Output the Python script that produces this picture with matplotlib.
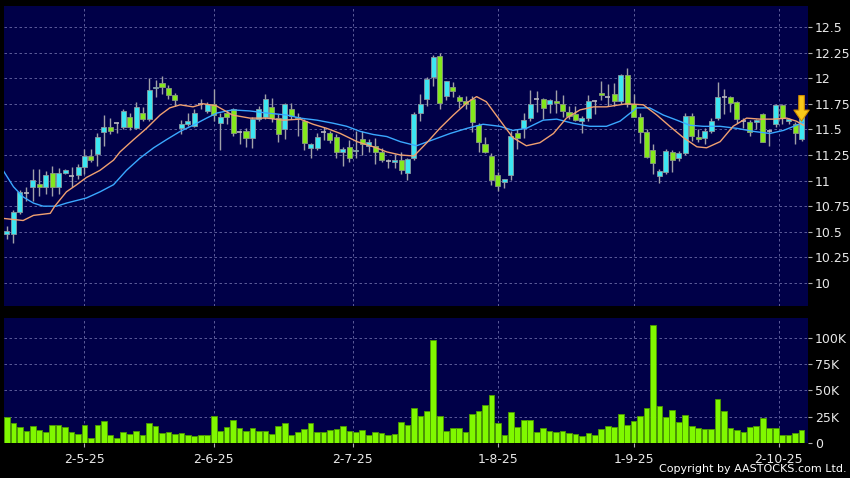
import numpy as np
import matplotlib.pyplot as plt

# OHLC per trading day
opens = [10.48, 10.48, 10.69, 10.88, 10.94, 10.97, 10.94, 11.07, 10.94, 11.07,
         11.04, 11.05, 11.13, 11.24, 11.26, 11.47, 11.52, 11.56, 11.52, 11.62,
         11.51, 11.66, 11.60, 11.90, 11.95, 11.90, 11.84, 11.51, 11.55, 11.53,
         11.75, 11.68, 11.75, 11.56, 11.66, 11.70, 11.47, 11.48, 11.42, 11.60,
         11.62, 11.72, 11.61, 11.50, 11.70, 11.62, 11.58, 11.32, 11.32, 11.47,
         11.46, 11.43, 11.28, 11.33, 11.29, 11.41, 11.34, 11.34, 11.28, 11.19,
         11.18, 11.20, 11.07, 11.22, 11.66, 11.80, 12.01, 12.22, 11.83, 11.91,
         11.82, 11.78, 11.80, 11.54, 11.36, 11.24, 11.05, 10.99, 11.05, 11.46,
         11.51, 11.61, 11.80, 11.80, 11.75, 11.78, 11.75, 11.67, 11.65, 11.58,
         11.61, 11.78, 11.86, 11.82, 11.85, 11.78, 12.03, 11.75, 11.62, 11.47,
         11.30, 11.04, 11.08, 11.28, 11.22, 11.27, 11.63, 11.43, 11.42, 11.48,
         11.61, 11.82, 11.82, 11.77, 11.58, 11.57, 11.57, 11.65, 11.48, 11.55,
         11.74, 11.58, 11.55, 11.41]
highs = [10.56, 10.71, 10.91, 10.94, 11.11, 11.11, 11.09, 11.14, 11.12, 11.11,
         11.13, 11.16, 11.31, 11.31, 11.46, 11.64, 11.61, 11.57, 11.70, 11.66,
         11.77, 11.72, 12.00, 11.98, 12.02, 11.93, 11.86, 11.59, 11.66, 11.70,
         11.80, 11.77, 11.89, 11.66, 11.69, 11.71, 11.49, 11.51, 11.62, 11.73,
         11.85, 11.81, 11.65, 11.76, 11.76, 11.66, 11.60, 11.37, 11.46, 11.52,
         11.48, 11.45, 11.33, 11.40, 11.48, 11.48, 11.41, 11.42, 11.32, 11.21,
         11.26, 11.28, 11.22, 11.67, 11.85, 12.01, 12.23, 12.25, 11.97, 11.96,
         11.84, 11.83, 11.83, 11.56, 11.43, 11.27, 11.08, 11.02, 11.48, 11.50,
         11.66, 11.88, 11.87, 11.81, 11.80, 11.88, 11.84, 11.73, 11.73, 11.63,
         11.84, 11.79, 11.97, 11.94, 11.95, 12.04, 12.10, 11.85, 11.66, 11.50,
         11.36, 11.11, 11.31, 11.30, 11.29, 11.66, 11.66, 11.50, 11.51, 11.61,
         11.96, 11.89, 11.83, 11.78, 11.61, 11.59, 11.60, 11.66, 11.50, 11.75,
         11.75, 11.61, 11.57, 11.66]
lows = [10.43, 10.39, 10.67, 10.80, 10.80, 10.85, 10.87, 10.85, 10.87, 11.06,
        10.94, 11.02, 11.06, 11.18, 11.14, 11.34, 11.45, 11.46, 11.50, 11.49,
        11.50, 11.58, 11.58, 11.82, 11.85, 11.80, 11.73, 11.45, 11.53, 11.52,
        11.70, 11.66, 11.58, 11.30, 11.55, 11.44, 11.36, 11.33, 11.32, 11.58,
        11.60, 11.57, 11.38, 11.41, 11.60, 11.44, 11.30, 11.22, 11.30, 11.40,
        11.37, 11.22, 11.14, 11.18, 11.22, 11.25, 11.28, 11.16, 11.18, 11.12,
        11.12, 11.06, 11.01, 11.20, 11.58, 11.73, 11.92, 11.70, 11.79, 11.82,
        11.71, 11.70, 11.47, 11.28, 11.27, 10.96, 10.90, 10.93, 11.01, 11.31,
        11.42, 11.58, 11.67, 11.60, 11.66, 11.66, 11.62, 11.60, 11.58, 11.46,
        11.58, 11.65, 11.79, 11.73, 11.73, 11.75, 11.72, 11.70, 11.37, 11.22,
        11.06, 10.98, 11.06, 11.08, 11.19, 11.25, 11.39, 11.38, 11.36, 11.46,
        11.59, 11.65, 11.67, 11.56, 11.51, 11.44, 11.50, 11.38, 11.34, 11.52,
        11.55, 11.55, 11.36, 11.39]
closes = [10.51, 10.69, 10.89, 10.88, 11.01, 10.94, 11.05, 10.94, 11.07, 11.10,
          11.04, 11.13, 11.24, 11.20, 11.43, 11.52, 11.48, 11.56, 11.68, 11.52,
          11.72, 11.60, 11.88, 11.91, 11.91, 11.84, 11.79, 11.55, 11.58, 11.66,
          11.75, 11.75, 11.64, 11.62, 11.62, 11.46, 11.47, 11.42, 11.60, 11.70,
          11.80, 11.61, 11.45, 11.75, 11.63, 11.61, 11.37, 11.36, 11.43, 11.47,
          11.40, 11.28, 11.31, 11.22, 11.30, 11.36, 11.38, 11.28, 11.20, 11.19,
          11.20, 11.10, 11.21, 11.65, 11.75, 11.99, 12.21, 11.76, 11.97, 11.87,
          11.78, 11.75, 11.57, 11.38, 11.28, 11.01, 10.95, 11.02, 11.44, 11.42,
          11.59, 11.75, 11.80, 11.71, 11.79, 11.76, 11.68, 11.63, 11.59, 11.61,
          11.78, 11.78, 11.84, 11.82, 11.78, 12.03, 11.75, 11.62, 11.47, 11.23,
          11.17, 11.09, 11.29, 11.20, 11.27, 11.63, 11.44, 11.41, 11.48, 11.58,
          11.82, 11.82, 11.76, 11.60, 11.58, 11.47, 11.59, 11.38, 11.48, 11.74,
          11.61, 11.60, 11.46, 11.63]

# daily volume (K)
volume_k = [25, 19, 15, 11.5, 16, 12, 10.5, 17, 17, 15,
            10, 9, 17.6, 5, 17.6, 20.5, 7.4, 4.8, 10, 9,
            11, 8, 19.5, 16, 9.6, 10, 9, 9.6, 7.4, 6.7,
            7.7, 7.7, 25.3, 11.5, 15, 21.5, 14.4, 11.5, 14.4, 11,
            11, 9, 16, 19, 7.7, 10, 13.8, 19.5, 10.5, 10.5,
            12, 13.8, 16, 11, 10, 12.5, 8, 10.5, 9.3, 8,
            8.3, 20, 16.7, 33, 26, 30, 97.8, 25.4, 11.7, 14,
            14.6, 10.8, 27.6, 30, 36, 46, 19.4, 7.6, 29.5, 15,
            22, 22, 10.8, 14.6, 11.7, 10.8, 11.7, 9.8, 8.6, 7,
            9.8, 7.3, 13.3, 16.2, 15.6, 27.6, 17.5, 21, 26, 33.3,
            112.7, 35.5, 24.8, 31.7, 20, 26.3, 16.2, 14.3, 13, 13.7,
            42, 30, 14.6, 12, 10.2, 15.2, 16.5, 23.8, 14.6, 14.6,
            7.3, 7.3, 9.8, 12.4]

# moving averages read at sampled bar positions
ma_fast_x = [-0.5, 2.5, 4.1, 6.7, 7.4, 9.2, 10.8, 12.3, 14.4, 16.5, 17.5, 19.6,
             21.6, 23.7, 25.2, 26.8, 28.8, 30.4, 32.4, 34.9, 37.6, 40.2, 42.8,
             45.4, 47.4, 49.5, 51.6, 54.2, 56.7, 58.8, 60.9, 63.0, 65.0, 67.0,
             69.1, 71.2, 72.7, 74.2, 76.3, 78.3, 80.4, 82.5, 84.6, 86.6, 88.7,
             90.8, 92.8, 95.9, 98.5, 100.6, 102.6, 104.7, 106.8, 108.3, 110.4,
             112.4, 114.5, 116.6, 118.6, 120.7, 122.2, 123.3]
ma_fast_y = [10.63, 10.61, 10.66, 10.68, 10.75, 10.89, 10.96, 11.03, 11.10, 11.20,
             11.28, 11.40, 11.51, 11.64, 11.71, 11.74, 11.72, 11.75, 11.73, 11.64,
             11.61, 11.61, 11.59, 11.60, 11.55, 11.51, 11.46, 11.38, 11.33, 11.28,
             11.25, 11.24, 11.37, 11.51, 11.64, 11.76, 11.82, 11.77, 11.59, 11.42,
             11.34, 11.37, 11.46, 11.61, 11.69, 11.72, 11.72, 11.75, 11.74, 11.64,
             11.53, 11.42, 11.33, 11.32, 11.38, 11.53, 11.61, 11.60, 11.60, 11.61,
             11.58, 11.54]
ma_slow_x = [-0.5, 1.0, 2.5, 4.1, 5.6, 7.7, 9.2, 12.3, 14.4, 16.5, 18.5, 20.6,
             22.7, 24.7, 26.8, 28.8, 30.9, 32.5, 34.9, 37.6, 40.2, 43.3, 45.4,
             48.0, 50.5, 52.6, 54.7, 56.7, 58.8, 60.9, 63.4, 66.0, 68.6, 71.2,
             73.7, 76.3, 78.3, 80.4, 83.0, 85.1, 87.6, 90.2, 92.8, 94.9, 97.5,
             99.5, 101.6, 103.7, 105.7, 107.8, 110.4, 113.0, 115.6, 118.1, 120.2,
             122.2, 123.3]
ma_slow_y = [11.09, 10.94, 10.84, 10.78, 10.75, 10.75, 10.78, 10.83, 10.89, 10.96,
             11.10, 11.22, 11.32, 11.40, 11.48, 11.54, 11.61, 11.66, 11.69, 11.68,
             11.66, 11.64, 11.61, 11.59, 11.56, 11.53, 11.48, 11.45, 11.43, 11.38,
             11.34, 11.40, 11.46, 11.51, 11.55, 11.53, 11.49, 11.51, 11.59, 11.60,
             11.56, 11.53, 11.53, 11.58, 11.71, 11.71, 11.64, 11.59, 11.54, 11.53,
             11.53, 11.51, 11.48, 11.46, 11.49, 11.54, 11.57]

date_pos = [12, 32, 53.5, 76, 97, 119.5]
date_labels = ['2-5-25', '2-6-25', '2-7-25', '1-8-25', '1-9-25', '2-10-25']
price_ticks = [10, 10.25, 10.5, 10.75, 11, 11.25, 11.5, 11.75, 12, 12.25, 12.5]
vol_ticks = [0, 25, 50, 75, 100]
vol_labels = ['0', '25K', '50K', '75K', '100K']

bg = '#000048'
grid_col = '#6a6aa6'
up_col = '#3ce6f2'
down_col = '#84e81c'
wick_col = '#a0a0a8'

o = np.array(opens)
h = np.array(highs)
l = np.array(lows)
c = np.array(closes)
idx = np.arange(len(o))

fig = plt.figure(figsize=(8.5, 4.78), dpi=100, facecolor='black')
ax = fig.add_axes([4/850, 1 - 306/478, 804/850, 300/478], facecolor=bg)
axv = fig.add_axes([4/850, 1 - 443/478, 804/850, 125/478], facecolor=bg)

for a in (ax, axv):
    for s in a.spines.values():
        s.set_visible(False)
    a.set_xlim(-0.46, 124.0)
    a.set_xticks(date_pos)
    a.grid(True, color=grid_col, linestyle=(0, (3, 3)), linewidth=0.6)
    a.set_axisbelow(True)
    a.yaxis.tick_right()
    a.tick_params(axis='y', colors='#b0b0b0', labelcolor='#e8e8e8',
                  labelsize=9, length=3, pad=2)

# price panel
ax.vlines(idx, l, h, color=wick_col, linewidth=1, zorder=2)
up = c > o
down = c < o
flat = c == o
w = 0.78
ax.bar(idx[up], (c - o)[up], bottom=o[up], width=w, color=up_col,
       edgecolor='#8a9aa0', linewidth=0.6, zorder=3)
ax.bar(idx[down], (o - c)[down], bottom=c[down], width=w, color=down_col,
       edgecolor='#8a9a80', linewidth=0.6, zorder=3)
ax.hlines(c[flat], idx[flat] - w / 2, idx[flat] + w / 2, color='#b8b8c0',
          linewidth=1.2, zorder=3)

ax.plot(ma_slow_x, ma_slow_y, color='#3aa8ff', linewidth=1, zorder=4)
ax.plot(ma_fast_x, ma_fast_y, color='#f0a070', linewidth=1, zorder=4)

ax.annotate('', xy=(idx[-1], 11.58), xytext=(idx[-1], 11.83),
            arrowprops=dict(facecolor='#f8c81a', edgecolor='#d08a00',
                            width=4, headwidth=11, headlength=8, linewidth=0.8),
            zorder=6)

ax.set_ylim(9.775, 12.705)
ax.set_yticks(price_ticks)
ax.set_yticklabels(['%g' % t for t in price_ticks])
ax.tick_params(axis='x', length=0, labelbottom=False)

# volume panel
axv.bar(idx, volume_k, width=0.88, color='#80f800', edgecolor='#4c9a00',
        linewidth=0.6, zorder=3)
axv.set_ylim(0, 119)
axv.set_yticks(vol_ticks)
axv.set_yticklabels(vol_labels)
axv.set_xticklabels(date_labels)
axv.tick_params(axis='x', colors='#b0b0b0', labelcolor='#e8e8e8',
                labelsize=9, length=3, pad=4)

fig.text(0.996, 0.008, 'Copyright by AASTOCKS.com Ltd.', color='white',
         fontsize=8, ha='right', va='bottom')

fig.savefig('out.png', dpi=100, facecolor='black')
